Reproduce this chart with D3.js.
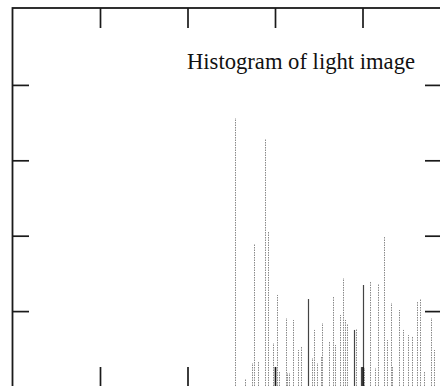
<!DOCTYPE html>
<html>
<head>
<meta charset="utf-8">
<script src="https://cdn.jsdelivr.net/npm/d3@7/dist/d3.min.js"></script>
<style>
  html, body { margin: 0; padding: 0; background: #fff; }
  svg { display: block; }
</style>
</head>
<body>
<svg id="chart" width="440" height="386"></svg>
<script>
// ---- data ----
const title = "Histogram of light image";
const grayLevels = [127, 133, 137, 138, 140, 144, 146, 149, 151, 152, 156, 157, 158, 160, 163, 165,
  169, 171, 172, 174, 176, 177, 181, 183, 184, 187, 189, 190, 191, 195, 196, 199, 200, 201,
  204, 207, 209, 212, 214, 216, 217, 221, 223, 226, 228, 231, 233, 235, 239, 241, 244];
const counts = [1780, 50, 156, 945, 162, 1641, 1031, 288, 607, 96, 454, 90, 90, 441, 242, 262,
  580, 189, 375, 156, 196, 421, 295, 600, 275, 474, 719, 441, 414, 375, 381, 129, 673, 123,
  693, 123, 680, 991, 308, 554, 129, 507, 375, 341, 335, 560, 580, 96, 454, 242, 388];
const xTicks = [50, 100, 150, 200];
const yTicks = [500, 1000, 1500, 2000];

// ---- layout ----
const svg = d3.select("#chart");
const frameL = 12.5, frameT = 8, frameR = 442, frameB = 387;
const x = d3.scaleLinear().domain([0, 255]).range([frameL, frameL + 255 * 1.75]);
const y = d3.scaleLinear().domain([0, 2000]).range([386.5, 84.9]);

const darkLevels = new Set([169, 195, 199, 200]);

// histogram lines
svg.append("g")
  .selectAll("line")
  .data(grayLevels.map((g, i) => ({ g, c: counts[i] })))
  .join("line")
  .attr("x1", d => Math.round(x(d.g)) + 0.5)
  .attr("x2", d => Math.round(x(d.g)) + 0.5)
  .attr("y1", y(0) + 2)
  .attr("y2", d => y(d.c))
  .attr("stroke", d => darkLevels.has(d.g) ? "#444" : "#8a8a8a")
  .attr("stroke-width", d => darkLevels.has(d.g) ? 1.2 : 1)
  .attr("stroke-dasharray", d => darkLevels.has(d.g) ? null : "1.5,1");

// frame
svg.append("rect")
  .attr("x", frameL).attr("y", frameT)
  .attr("width", frameR - frameL).attr("height", frameB - frameT)
  .attr("fill", "none").attr("stroke", "#1a1a1a").attr("stroke-width", 1.8);

function styleAxis(g) {
  g.select(".domain").remove();
  g.selectAll(".tick line").attr("stroke", "#1a1a1a").attr("stroke-width", 1.7);
  g.selectAll(".tick text").remove();
}

svg.append("g").attr("transform", `translate(0,${frameT})`)
  .call(d3.axisTop(x).tickValues(xTicks).tickSize(-20).tickFormat("")).call(styleAxis);
svg.append("g").attr("transform", `translate(0,${frameB})`)
  .call(d3.axisBottom(x).tickValues(xTicks).tickSize(-20).tickFormat("")).call(styleAxis);
svg.append("g").attr("transform", `translate(${frameL},0)`)
  .call(d3.axisLeft(y).tickValues(yTicks).tickSize(-16.5).tickFormat("")).call(styleAxis);
svg.append("g").attr("transform", `translate(${frameR},0)`)
  .call(d3.axisRight(y).tickValues(yTicks).tickSize(-17).tickFormat("")).call(styleAxis);

// title
svg.append("text")
  .attr("x", 187).attr("y", 69)
  .attr("font-family", "'Liberation Serif', 'Times New Roman', serif")
  .attr("font-size", 24)
  .attr("textLength", 228)
  .attr("lengthAdjust", "spacingAndGlyphs")
  .attr("fill", "#111")
  .text(title);
</script>
</body>
</html>
